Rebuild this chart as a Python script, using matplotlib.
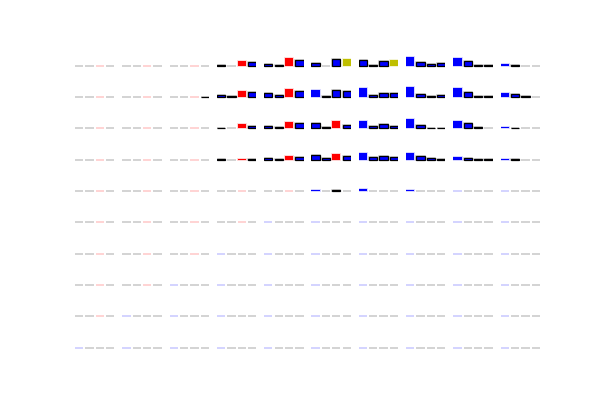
import numpy as np
import matplotlib
matplotlib.use('Agg')
import matplotlib.pyplot as plt

n_rows = 10
n_cols = 10
actions = [0, 1, 2, 3]
action_colors = ['b', 'g', 'r', 'y']  # colour of the best action in a cell

# best action per cell (one string per grid row)
best = ["2222233000",
        "2222200000",
        "2222220000",
        "2222220000",
        "2222200000",
        "2222000000",
        "2220000000",
        "2200000000",
        "2000000000",
        "0000000000"]

# action values per cell, None = cell not visited yet
row0 = [None, None, None,
        [0.02, 0, 0.28, 0.22], [0.10, 0.06, 0.46, 0.36], [0.16, 0, 0.42, 0.42],
        [0.36, 0.06, 0.28, 0.36], [0.50, 0.22, 0.10, 0.16], [0.44, 0.30, 0.06, 0.06],
        [0.12, 0.06, 0, 0]]
row1 = [None, None, [0, 0, 0.02, 0.02],
        [0.12, 0.08, 0.36, 0.28], [0.22, 0.12, 0.46, 0.34], [0.40, 0.06, 0.40, 0.34],
        [0.54, 0.12, 0.22, 0.22], [0.60, 0.16, 0.06, 0.12], [0.54, 0.30, 0.08, 0.08],
        [0.24, 0.18, 0.06, 0]]
row2 = [None, None, None,
        [0.03, 0, 0.24, 0.16], [0.16, 0.06, 0.40, 0.30], [0.30, 0.10, 0.42, 0.22],
        [0.42, 0.16, 0.26, 0.16], [0.54, 0.22, 0.04, 0.04], [0.42, 0.30, 0.06, 0],
        [0.10, 0.04, 0, 0]]
row3 = [None, None, None,
        [0.02, 0, 0.04, 0.04], [0.10, 0.06, 0.22, 0.14], [0.26, 0.10, 0.32, 0.20],
        [0.40, 0.14, 0.20, 0.14], [0.38, 0.20, 0.08, 0.02], [0.14, 0.08, 0.04, 0.04],
        [0.04, 0.04, 0, 0]]
row4 = [None, None, None, None, None,
        [0.06, 0, 0.06, 0], [0.12, 0, 0, 0], [0.08, 0, 0, 0], None, None]
empty_row = [None] * n_cols
values = [row0, row1, row2, row3, row4] + [empty_row] * 5

fig, axes = plt.subplots(n_rows, n_cols, figsize=(6, 4), dpi=100)

for r in range(n_rows):
    for c in range(n_cols):
        ax = axes[r, c]
        q = values[r][c]
        b = int(best[r][c])
        h = np.zeros(4) if q is None else np.array(q)
        cols = ['k'] * 4
        cols[b] = action_colors[b]
        # faint halo behind every bar
        ax.bar(actions, h, width=0.8, color=cols, edgecolor=cols,
               linewidth=1.2, alpha=0.2, zorder=1)
        if q is not None:
            for a in actions:
                if h[a] <= 0:
                    continue
                if a == b:
                    ax.bar(a, h[a], width=0.8, color=action_colors[a],
                           linewidth=0, zorder=2)
                else:
                    ax.bar(a, h[a], width=0.8, color='b', edgecolor='k',
                           linewidth=0.9, zorder=2)
        ax.set_xlim(-0.4, 3.4)
        ax.set_ylim(-0.5, 1.05)
        ax.axis('off')

plt.savefig('out.png')
